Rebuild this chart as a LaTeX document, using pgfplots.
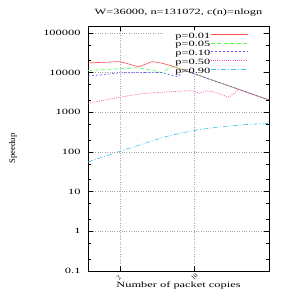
\documentclass[border=0pt]{standalone}
\usepackage{fontspec}
\setmainfont{Liberation Serif}[FakeStretch=1.55]
\newfontfamily\plainserif{Liberation Serif}
\usepackage{pgfplots}
\pgfplotsset{compat=1.18}
\begin{document}
\begin{tikzpicture}
\begin{axis}[
  at={(0,0)}, anchor=south west,
  scale only axis, width=181pt, height=245pt,
  xmode=log, ymode=log,
  xmin=1, xmax=50, ymin=0.1, ymax=150000,
  xtick={2,10}, xticklabels={2,10},
  ytick={0.1,1,10,100,1000,10000,100000},
  yticklabels={0.1,1,10,100,1000,10000,100000},
  minor ytick={0.2,0.5,2,5,20,50,200,500,2000,5000,20000,50000},
  minor xtick={},
  /pgf/number format/assume math mode=true,
  tick align=inside,
  major tick length=5pt, minor tick length=3pt,
  every tick/.style={black, line width=0.6pt},
  axis line style={line width=0.9pt},
  grid=major,
  major grid style={dotted, gray!70, line width=0.5pt},
  font=\fontsize{8}{9}\selectfont,
  yticklabel style={font=\fontsize{8}{9}\selectfont, xshift=-4pt},
  xticklabel shift=8pt,
  xticklabel style={font=\plainserif\fontsize{6.5}{7}\selectfont, xshift=-2.5pt, rotate=45, anchor=west, inner sep=0pt},
  title={W=36000, n=131072, c(n)=nlogn},
  every axis title/.style={at={(axis description cs:0.5,1)}, anchor=center, yshift=13pt, font=\fontsize{8}{9}\selectfont},
  xlabel={Number of packet copies},
  every axis x label/.style={at={(axis description cs:0.5,0)}, anchor=center, yshift=-15pt, font=\fontsize{8}{9}\selectfont},
  ylabel={Speedup},
  every axis y label/.style={at={(axis description cs:-0.414,0.5)}, rotate=90, anchor=center, font=\plainserif\fontsize{8.7}{9}\selectfont},
  legend style={at={(rel axis cs:0.885,0.977)}, anchor=north east, draw=none, fill=none,
    font=\fontsize{8}{9}\selectfont, inner sep=0pt,
    nodes={inner ysep=0pt, inner xsep=0pt, text height=6.25pt, text depth=2.5pt},
    /tikz/every even column/.append style={column sep=11pt}},
  legend cell align=right,
  legend plot pos=right,
  legend image code/.code={\draw[#1] (0pt,2pt) -- (37pt,2pt);},
]
\fill[white] (rel axis cs:0.414,0.8) rectangle (rel axis cs:0.96,0.985);

\addplot[red!70, line width=0.6pt] coordinates {
(1,17600) (2,19000) (3,14000) (4,19000) (5,17200) (6,15000) (7,13000) (8,11500) (10,9300) (15,6350) (20,4860) (25,3940) (30,3300) (40,2520) (50,2050)};
\addlegendentry{p=0.01}

\addplot[green!70, line width=0.6pt, dash pattern=on 4pt off 2.5pt] coordinates {
(1,11300) (2,12600) (3,13200) (4,11500) (5,10000) (6,14000) (7,13000) (8,11500) (10,9300) (15,6350) (20,4860) (25,3940) (30,3300) (40,2520) (50,2050)};
\addlegendentry{p=0.05}

\addplot[blue!65, line width=0.6pt, dash pattern=on 2pt off 2pt] coordinates {
(1,8200) (2,9900) (3,10000) (4,10200) (5,10000) (6,8700) (7,7900) (8,11500) (10,9300) (15,6350) (20,4860) (25,3940) (30,3300) (40,2520) (50,2050)};
\addlegendentry{p=0.10}

\addplot[magenta!70, line width=0.6pt, dash pattern=on 1pt off 1.2pt] coordinates {
(1,1700) (2,2400) (3,2900) (4,3100) (6,3300) (9,3500) (10,3450) (11,3000) (13,3500) (15,3300) (21,2400) (26,3800) (30,3300) (40,2520) (50,2050)};
\addlegendentry{p=0.50}

\addplot[cyan!75, line width=0.6pt, dash pattern=on 5pt off 2pt on 1pt off 2pt] coordinates {
(1,56) (2,105) (3,148) (4,190) (5,231) (7,290) (10,350) (15,410) (20,446) (30,490) (40,512) (50,525)};
\addlegendentry{p=0.90}
\end{axis}
\pgfresetboundingbox
\path (-88pt,-20pt) rectangle (203pt,271pt);
\end{tikzpicture}
\end{document}
